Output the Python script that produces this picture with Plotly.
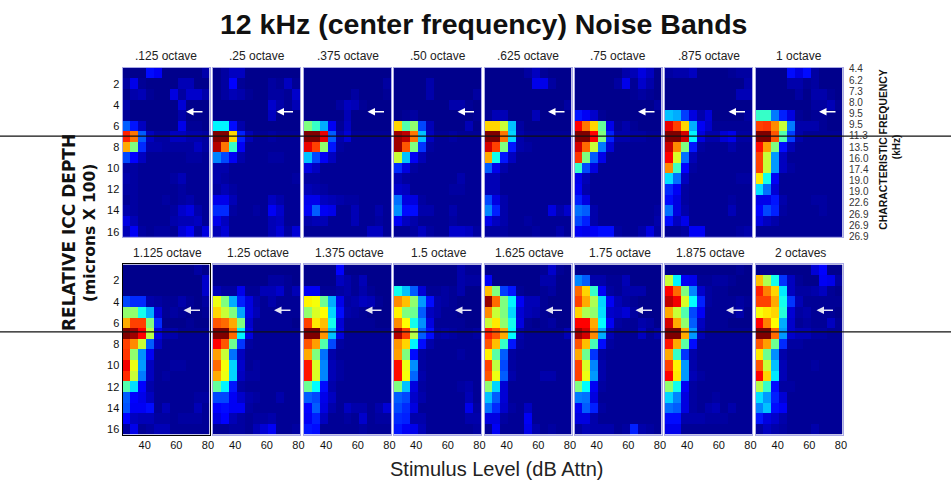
import plotly.graph_objects as go

levels = [28.5, 33.5, 38.5, 43.5, 48.5, 53.5, 58.5, 63.5, 68.5, 73.5, 78.5]
depths = list(range(1, 17))
cf_labels = ["4.4", "6.2", "7.3", "8.0", "9.5", "9.5", "11.3", "13.5", "16.0", "17.4", "19.0", "19.0", "22.6", "26.9", "26.9", "26.9"]
titles = [".125 octave", ".25 octave", ".375 octave", ".50 octave", ".625 octave", ".75 octave", ".875 octave", "1 octave",
          "1.125 octave", "1.25 octave", "1.375 octave", "1.5 octave", "1.625 octave", "1.75 octave", "1.875 octave", "2 octaves"]

p01 = [[0,0,0,12,10,0,0,0,0,0,3],[2,9,1,0,0,0,0,4,4,0,0],[0,3,4,1,0,0,8,2,6,6,3],[3,0,0,0,0,0,0,7,0,0,0],
       [1,0,0,0,0,0,0,3,0,0,0],[20,13,5,0,0,0,0,9,1,1,0],[85,77,20,5,2,2,5,5,3,3,2],[72,50,15,3,3,2,2,2,2,5,2],
       [18,11,5,1,1,1,1,1,2,2,1],[2,2,1,1,1,1,1,1,1,1,1],[3,2,1,1,1,1,2,4,1,1,1],[2,2,1,1,1,1,1,2,1,1,1],
       [1,2,1,1,1,2,1,2,3,1,1],[3,2,1,1,1,1,2,6,8,3,1],[8,4,1,1,1,1,3,4,4,5,1],[4,10,2,1,2,2,1,7,10,2,8]]
p02 = [[0,2,5,5,0,0,0,0,0,0,0],[0,2,11,1,0,0,0,2,1,5,1],[0,2,4,3,1,0,0,2,2,1,6],[0,0,0,0,0,0,0,6,3,1,4],
       [0,0,0,0,0,0,0,5,0,0,0],[35,35,12,3,0,0,0,0,0,0,0],[100,100,68,14,4,1,1,2,1,1,1],[95,77,42,10,1,1,1,1,1,1,1],
       [24,18,10,3,1,1,1,2,2,1,1],[3,3,1,1,1,1,1,1,1,1,1],[3,2,1,1,1,1,1,1,1,1,2],[2,4,2,1,1,1,1,1,1,1,1],
       [9,9,4,1,1,1,1,5,3,1,1],[15,15,2,1,1,2,1,10,6,1,1],[9,5,1,1,1,1,1,4,5,1,1],[4,7,1,1,1,1,1,4,7,2,7]]
p03 = [[0,0,0,0,0,0,0,0,0,0,0],[0,0,0,0,0,0,0,0,0,0,2],[0,0,0,0,0,0,2,0,0,0,1],[0,0,0,0,2,5,4,1,0,0,0],
       [0,0,0,0,0,4,0,0,0,0,0],[50,42,28,10,1,5,0,0,0,0,0],[100,100,90,20,3,7,1,1,1,1,1],[90,82,52,13,2,1,1,1,1,1,1],
       [30,18,10,5,1,1,1,1,1,1,1],[8,5,1,1,1,1,1,1,1,1,1],[2,2,1,1,1,1,1,1,1,1,1],[4,3,2,1,1,1,1,1,1,1,1],
       [9,9,5,4,3,2,2,1,1,1,1],[10,20,10,9,1,1,4,1,1,3,1],[3,4,4,1,1,1,4,1,1,2,1],[1,1,1,1,1,1,1,1,5,5,1]]
p04 = [[0,0,0,0,0,0,0,0,0,0,0],[0,0,0,0,3,0,0,0,0,0,0],[0,0,0,0,3,0,0,0,0,0,2],[0,0,0,0,0,0,0,3,3,1,0],
       [0,1,2,0,0,0,0,0,0,0,1],[68,45,52,18,4,0,0,0,0,4,0],[97,94,77,30,5,1,1,2,1,1,1],[97,80,50,16,2,1,1,1,1,1,1],
       [58,30,10,4,1,1,1,1,1,1,1],[15,8,2,1,1,1,1,1,1,1,1],[4,2,1,1,1,1,1,1,3,1,1],[6,5,1,1,1,1,1,2,2,1,1],
       [22,8,8,2,1,1,1,1,1,1,1],[25,12,12,3,3,1,1,3,1,1,1],[10,5,3,1,1,1,1,2,1,1,1],[1,1,2,5,2,1,1,6,6,5,2]]
p05 = [[0,0,0,0,0,2,5,1,0,0,0],[0,0,0,0,0,0,9,9,2,0,0],[0,0,0,0,0,0,0,0,0,0,0],[0,0,0,0,0,0,0,0,0,0,2],
       [1,4,4,0,0,0,4,0,0,0,0],[68,68,58,30,2,0,0,0,0,0,0],[100,100,77,32,3,1,1,1,1,1,1],[92,82,50,13,3,2,1,1,1,1,1],
       [72,38,13,5,1,1,1,1,1,1,1],[20,9,3,1,1,1,1,1,1,1,1],[4,4,1,1,1,1,1,1,1,1,1],[4,4,1,1,1,1,1,1,1,1,1],
       [18,8,3,1,1,1,1,1,1,1,1],[24,14,3,1,1,1,1,1,8,3,6],[9,5,3,1,1,2,1,1,1,1,1],[2,2,2,1,1,1,2,1,1,3,1]]
p06 = [[0,0,0,0,0,0,3,4,8,5,0],[0,0,0,0,0,2,9,1,6,3,0],[0,0,0,0,0,0,0,1,2,1,0],[0,0,0,0,0,0,0,0,0,0,2],
       [13,10,6,1,0,0,0,0,0,0,0],[88,77,68,47,9,1,3,1,0,0,0],[100,100,88,50,14,3,3,2,2,1,1],[92,78,58,23,7,1,1,1,1,1,1],
       [83,50,20,9,1,1,1,1,1,1,1],[42,18,8,1,1,1,1,1,1,1,1],[9,4,1,1,1,1,1,1,1,1,1],[10,3,1,1,1,1,1,1,1,1,1],
       [14,8,1,1,1,1,1,1,1,1,1],[22,20,3,1,1,1,1,1,1,1,2],[18,14,3,1,1,1,1,1,1,1,3],[10,9,10,12,12,2,1,1,3,8,2]]
p07 = [[2,3,3,5,0,0,0,0,1,2,2],[0,0,0,0,0,0,0,0,0,0,3],[0,0,0,0,0,0,0,0,0,4,4],[0,0,0,0,0,0,0,0,0,0,0],
       [30,28,17,8,3,7,0,0,0,0,2],[90,82,68,28,10,6,1,1,1,1,1],[100,100,92,35,8,3,3,7,9,2,2],[93,75,50,13,2,1,1,1,3,1,1],
       [88,60,22,4,1,1,1,1,1,1,1],[75,43,11,2,1,1,1,1,1,1,1],[33,22,5,1,1,1,1,1,1,2,2],[15,10,2,1,1,1,1,1,1,1,1],
       [12,8,2,1,1,1,1,1,2,1,1],[22,8,3,1,1,1,1,1,4,1,1],[12,5,9,1,1,1,1,1,1,1,1],[1,1,2,10,10,1,1,1,1,2,3]]
p08 = [[0,0,0,0,12,8,12,2,0,0,0],[0,0,0,0,3,3,1,2,0,0,0],[0,0,0,0,0,2,0,3,3,1,0],[0,0,0,0,0,0,0,2,2,4,1],
       [42,42,23,14,8,1,0,1,1,0,0],[82,83,75,58,23,3,3,3,1,0,0],[100,100,80,45,17,3,1,1,1,1,1],[87,73,50,12,4,1,1,1,1,1,1],
       [82,58,26,5,1,1,1,1,1,1,1],[82,58,26,5,2,1,1,1,1,1,1],[66,38,10,1,1,1,1,1,1,1,1],[33,22,7,1,1,1,1,1,1,1,1],
       [9,9,13,3,1,1,1,2,2,1,1],[11,18,14,2,1,1,1,1,2,1,1],[8,5,3,1,1,1,1,1,1,1,1],[1,1,1,1,1,1,1,1,1,1,1]]
p09 = [[0,0,0,0,0,0,0,0,0,2,0],[0,0,0,0,0,0,0,0,0,0,6],[0,0,0,0,0,0,0,0,0,0,6],[18,15,15,3,2,1,1,3,1,0,2],
       [52,52,38,28,7,1,2,1,0,0,1],[72,82,82,50,15,0,0,0,1,0,0],[100,97,88,56,8,3,3,1,1,1,1],[82,75,58,20,5,1,1,1,1,1,1],
       [83,52,25,10,1,1,1,1,1,1,1],[89,62,26,5,1,1,2,2,1,1,1],[84,58,23,5,1,2,1,1,1,1,1],[45,33,11,3,1,1,1,1,1,1,1],
       [20,11,9,5,1,1,1,1,1,2,2],[19,10,10,12,1,4,1,1,1,4,1],[11,5,4,4,2,2,1,2,2,2,1],[2,9,1,2,4,4,1,1,1,1,1]]
p10 = [[0,0,0,0,0,0,0,0,0,0,0],[0,0,0,0,0,0,0,2,2,1,0],[4,2,2,9,1,1,4,4,6,1,4],[62,50,28,14,8,3,1,3,1,1,1],
       [68,58,50,27,8,4,1,1,1,1,1],[80,78,72,50,6,1,1,1,1,1,0],[100,100,78,35,8,1,1,1,1,1,1],[88,80,48,16,2,1,1,1,1,1,1],
       [73,58,22,5,1,1,1,1,1,1,1],[78,63,32,6,1,2,1,1,1,1,1],[72,62,32,5,2,2,1,1,1,1,1],[47,35,13,2,1,1,1,1,1,1,1],
       [18,18,10,6,3,2,1,1,3,1,1],[11,12,10,10,2,1,1,1,1,1,1],[8,11,4,2,1,2,2,3,1,1,1],[1,1,2,2,1,4,7,10,1,1,2]]
p11 = [[0,0,0,0,11,0,0,0,0,0,0],[0,0,0,0,5,3,1,4,0,0,0],[10,10,1,1,2,3,1,3,1,0,0],[65,63,48,28,9,2,3,5,4,1,0],
       [52,60,64,32,12,3,2,1,0,0,0],[82,66,70,38,7,1,1,1,1,0,0],[100,100,74,30,8,1,1,1,1,1,1],[80,73,45,18,2,1,1,1,1,1,1],
       [72,50,22,3,1,1,1,1,1,1,1],[86,60,24,4,2,1,1,1,1,1,1],[86,60,24,4,2,1,1,1,1,1,1],[48,36,12,3,1,1,1,1,1,1,1],
       [20,18,9,5,1,1,1,1,1,1,1],[11,20,8,3,1,5,3,3,1,3,7],[10,14,5,1,1,2,1,6,1,2,2],[13,12,1,1,1,1,1,2,1,1,1]]
p12 = [[0,0,0,0,0,0,0,0,3,1,1],[0,0,0,0,0,0,0,0,3,2,2],[38,30,20,7,1,1,2,1,3,0,0],[75,70,52,26,12,3,2,1,0,0,0],
       [65,50,48,20,5,3,1,1,0,0,0],[75,64,38,25,8,1,1,1,1,0,0],[95,82,56,20,12,2,3,2,1,1,2],[74,68,35,12,3,1,1,1,1,1,1],
       [73,50,12,2,1,1,1,1,2,1,1],[87,62,25,2,1,1,1,1,1,1,1],[87,63,21,3,1,1,1,1,1,1,1],[50,30,8,2,1,1,1,1,2,3,1],
       [20,18,6,3,1,1,1,1,1,4,1],[18,15,8,1,1,1,1,1,1,9,2],[15,14,3,3,1,1,1,1,1,3,3],[13,10,9,4,1,1,1,1,1,1,2]]
p13 = [[0,0,0,0,0,0,0,1,6,1,0],[10,0,0,0,0,0,0,3,3,0,0],[70,50,17,13,1,0,0,1,2,0,0],[98,78,50,35,10,4,4,1,0,0,0],
       [75,58,50,32,7,4,3,1,0,0,0],[58,66,52,38,8,1,0,1,2,0,0],[85,80,72,36,3,1,1,1,1,1,4],[80,70,42,13,2,1,1,1,1,1,1],
       [65,46,20,2,1,1,1,1,1,1,1],[82,57,18,2,1,1,1,1,1,1,1],[80,62,20,3,1,1,1,3,3,1,1],[52,32,7,1,1,1,1,1,1,1,1],
       [30,20,7,1,1,1,1,1,1,1,1],[22,15,6,2,1,5,1,1,1,1,1],[8,8,2,1,1,10,1,1,1,1,1],[1,10,1,1,1,9,3,1,2,1,1]]
p14 = [[0,0,0,0,0,0,0,0,0,0,0],[24,20,3,3,1,1,4,0,0,0,0],[78,68,42,10,2,1,3,3,3,0,0],[82,72,55,32,10,4,2,1,0,0,0],
       [68,55,52,33,6,5,7,2,0,0,0],[88,88,72,36,10,2,1,1,3,2,0],[97,92,75,28,4,1,1,1,5,1,3],[80,70,44,12,2,1,1,1,1,1,1],
       [72,48,16,2,1,1,1,1,1,1,1],[82,60,24,3,1,1,1,1,1,1,1],[82,62,26,3,1,1,1,1,1,1,1],[50,36,10,2,1,1,1,1,1,1,1],
       [23,22,8,1,1,1,1,1,1,1,1],[10,20,14,2,1,1,1,1,1,1,1],[8,8,3,1,1,1,1,1,1,1,1],[2,4,3,3,3,1,2,14,3,2,1]]
p15 = [[0,0,0,0,0,0,0,0,0,1,0],[58,35,10,9,1,1,2,2,1,0,0],[88,78,50,24,6,2,1,1,0,0,0],[94,89,60,36,14,2,1,1,1,2,1],
       [72,58,45,18,10,1,1,1,1,3,0],[92,72,52,20,5,1,1,1,0,0,0],[100,100,72,26,4,1,1,1,1,1,1],[86,72,46,12,1,1,1,1,1,1,1],
       [72,42,16,3,1,1,1,1,1,1,1],[82,65,26,3,1,1,1,1,1,1,1],[88,66,26,4,2,1,1,1,1,1,1],[52,38,10,2,1,1,1,1,1,1,1],
       [32,24,8,2,1,1,2,1,1,1,1],[22,20,8,2,1,3,4,1,3,1,1],[12,12,3,3,3,2,2,2,1,1,1],[9,9,1,1,1,1,1,1,1,1,1]]
p16 = [[0,0,0,0,0,0,0,7,11,0,0],[70,55,38,16,5,1,0,0,10,9,2],[85,76,68,34,5,2,2,3,5,1,0],[82,82,72,38,16,4,1,1,1,1,1],
       [63,66,68,40,7,2,3,1,1,1,0],[88,76,64,28,6,1,2,1,1,5,1],[100,100,78,26,6,4,4,2,2,1,1],[80,73,48,15,2,2,1,1,1,1,1],
       [66,48,25,3,1,1,1,1,1,1,1],[80,58,30,4,1,1,1,2,1,1,1],[88,68,34,4,1,1,1,1,1,1,1],[56,42,12,2,2,1,1,1,1,1,1],
       [33,26,14,7,1,1,1,1,1,1,1],[24,30,12,10,1,1,1,1,1,1,1],[13,8,6,3,1,1,1,1,1,1,1],[2,5,3,2,1,1,1,3,1,1,1]]

panels = [p01, p02, p03, p04, p05, p06, p07, p08, p09, p10, p11, p12, p13, p14, p15, p16]

W, H = 951, 483
DRAW_W = 946
jet = [[0.0, "#00008c"], [0.11, "#0000ff"], [0.36, "#00ffff"], [0.5, "#7fff7f"], [0.64, "#ffff00"],
       [0.88, "#ff0000"], [1.0, "#7f0000"]]
lefts = [122.5, 213, 304, 394, 484.5, 574.5, 665, 755.5]
pw = 87
rows_px = [(68, 237.5), (265, 435.5)]

fig = go.Figure()
layout = {}
ann = []
shapes = []


def fx(p):
    return p / DRAW_W


def fy(p):
    return 1 - p / H


def txt(t, x, y, size, bold=False, angle=0, color="#111", anchor="center", family="Liberation Sans"):
    ann.append(dict(text=f"<b>{t}</b>" if bold else t, xref="paper", yref="paper", x=fx(x), y=fy(y), showarrow=False,
                    xanchor=anchor, yanchor="middle", textangle=angle,
                    font=dict(family=family, size=size, color=color)))


for i, z in enumerate(panels):
    c, r = i % 8, i // 8
    n = i + 1
    top, bot = rows_px[r]
    xname = "xaxis" if n == 1 else f"xaxis{n}"
    yname = "yaxis" if n == 1 else f"yaxis{n}"
    border = "#000000" if n == 9 else "#a9a9e6"
    fig.add_trace(go.Heatmap(z=z, x=levels, y=depths, colorscale=jet, zmin=0, zmax=100, showscale=False,
                             xaxis="x" if n == 1 else f"x{n}", yaxis="y" if n == 1 else f"y{n}"))
    layout[xname] = dict(domain=[fx(lefts[c]), fx(lefts[c] + pw)], range=[26, 81], tickvals=[40, 60, 80],
                         showticklabels=r == 1, ticks="", showgrid=False, zeroline=False,
                         tickfont=dict(family="Liberation Sans", size=11, color="#111"),
                         anchor="y" if n == 1 else f"y{n}",
                         showline=True, mirror=True, linecolor=border, linewidth=1)
    layout[yname] = dict(domain=[fy(bot), fy(top)], range=[16.5, 0.5], tickvals=list(range(2, 17, 2)),
                         showticklabels=c == 0, ticks="", showgrid=False, zeroline=False,
                         tickfont=dict(family="Liberation Sans", size=11, color="#111"),
                         anchor="x" if n == 1 else f"x{n}",
                         showline=True, mirror=True, linecolor=border, linewidth=1)
    txt(titles[i], lefts[c] + pw / 2 + (0 if r == 0 else 1.5), top - 11.5, 12, False, 0, "#222")
    ay_px = 112 if r == 0 else 311
    head = lefts[c] + (63.5 if r == 0 else 61)
    ann.append(dict(text="", xref="paper", yref="paper", x=fx(head), y=fy(ay_px), ax=18, ay=0, axref="pixel", ayref="pixel",
                    showarrow=True, arrowhead=2, arrowsize=1, arrowwidth=1.5,
                    arrowcolor="#ffffff" if r == 0 else "#e4e4f4"))

for yy in (136.5, 332.5):
    shapes.append(dict(type="line", xref="paper", yref="paper", x0=0, x1=1.02, y0=fy(yy), y1=fy(yy),
                       line=dict(color="#111", width=1.2)))

for k, lab in enumerate(cf_labels):
    txt(lab, 847, 69 + k * 11.2, 10, False, 0, "#333", "left")

txt("12 kHz (center frequency) Noise Bands", 483, 24, 28.5, True)
txt("Stimulus Level (dB Attn)", 497, 470, 20, False, 0, "#222")
txt("RELATIVE ICC DEPTH", 69, 233.5, 17, True, -90, "#111", "center", "DejaVu Sans")
txt("(microns X 100)", 90, 233.5, 15.5, True, -90, "#111", "center", "DejaVu Sans")
txt("CHARACTERISTIC FREQUENCY", 884, 150, 10.4, True, -90)
txt("(kHz)", 896.5, 148, 10, True, -90)

fig.update_layout(width=W, height=H, margin=dict(l=0, r=0, t=0, b=0), paper_bgcolor="white", plot_bgcolor="white",
                  showlegend=False, annotations=ann, shapes=shapes, **layout)
fig.write_html("out.html", default_width=f"{W}px", default_height=f"{H}px",
               config={"responsive": False, "displayModeBar": False},
               post_script=("document.documentElement.style.overflow='hidden';document.body.style.margin='0';"
                            "document.body.style.overflow='hidden';"))
